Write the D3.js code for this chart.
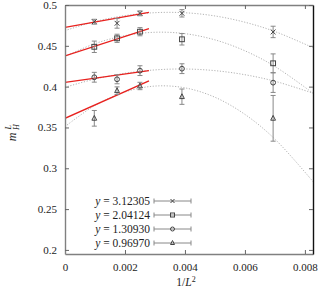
<!DOCTYPE html>
<html><head><meta charset="utf-8">
<script src="https://cdn.jsdelivr.net/npm/d3@7"></script>
<style>body{margin:0;background:#fff}svg{display:block}text{font-family:"Liberation Serif","Times New Roman",serif}</style>
</head><body><svg id="c" width="332" height="292"></svg>
<script>
// ---- data ----
const xs = [0.000977, 0.001736, 0.0025, 0.0039, 0.00694]; // 1/L^2 for L=32,24,20,16,12
const yLabels = ["3.12305", "2.04124", "1.30930", "0.96970"];
const markers = ["cross", "square", "circle", "triangle"];
const vals_31 = [0.4795, 0.4776, 0.4898, 0.4898, 0.4670];
const errs_31 = [0.003, 0.006, 0.003, 0.0045, 0.007];
const vals_20 = [0.4488, 0.4592, 0.4673, 0.4580, 0.4286];
const errs_20 = [0.007, 0.005, 0.005, 0.007, 0.0115];
const vals_13 = [0.4115, 0.4090, 0.4196, 0.4220, 0.4049];
const errs_13 = [0.006, 0.0055, 0.006, 0.006, 0.012];
const vals_09 = [0.3612, 0.3950, 0.4008, 0.3877, 0.3612];
const errs_09 = [0.0096, 0.0047, 0.0045, 0.0094, 0.028];
// red linear fits: value at x=0 and at x=fitEnd
const fitEnd = 0.0028;
const fitStart = [0.4727, 0.4376, 0.4053, 0.3612];
const fitStop = [0.4910, 0.4710, 0.4196, 0.4070];
// grey dotted curves
const curveX = [0, 0.001, 0.002, 0.003, 0.004, 0.005, 0.006, 0.007, 0.00827];
const curve_31 = [0.4686, 0.4797, 0.4870, 0.4906, 0.4905, 0.4866, 0.4789, 0.4675, 0.4477];
const curve_20 = [0.4370, 0.4527, 0.4625, 0.4666, 0.4649, 0.4573, 0.4439, 0.4247, 0.3920];
const curve_13 = [0.3992, 0.4093, 0.4164, 0.4205, 0.4216, 0.4196, 0.4146, 0.4066, 0.3920];
const curve_09 = [0.3510, 0.3770, 0.3935, 0.4007, 0.3985, 0.3870, 0.3660, 0.3357, 0.2837];
const xTicks = [0, 0.002, 0.004, 0.006, 0.008];
const xTickLabels = ["0", "0.002", "0.004", "0.006", "0.008"];
const yTicks = [0.2, 0.25, 0.3, 0.35, 0.4, 0.45, 0.5];
const yTickLabels = ["0.2", "0.25", "0.3", "0.35", "0.4", "0.45", "0.5"];

const vals = [vals_31, vals_20, vals_13, vals_09];
const errs = [errs_31, errs_20, errs_13, errs_09];
const curves = [curve_31, curve_20, curve_13, curve_09];

// ---- layout ----
const svg = d3.select("#c");
const L = 65, R = 313, T = 5, B = 254;
const x = d3.scaleLinear().domain([0, 0.00827]).range([L, R]);
const y = d3.scaleLinear().domain([0.195, 0.5]).range([B, T]);
const frameCol = "#808080";
const fs = 11;

svg.append("clipPath").attr("id", "clip").append("rect")
  .attr("x", L).attr("y", T).attr("width", R - L).attr("height", B - T);
const plot = svg.append("g").attr("clip-path", "url(#clip)");

// grey dotted curves
const line = d3.line().x(d => x(d[0])).y(d => y(d[1])).curve(d3.curveCatmullRom);
curves.forEach(c => {
  plot.append("path").datum(curveX.map((xv, i) => [xv, c[i]]))
    .attr("d", line).attr("fill", "none").attr("stroke", "#aaa")
    .attr("stroke-width", 0.9).attr("stroke-dasharray", "1.2,1.6");
});

// red fits
fitStart.forEach((s, i) => {
  plot.append("line").attr("x1", x(0)).attr("y1", y(s))
    .attr("x2", x(fitEnd)).attr("y2", y(fitStop[i]))
    .attr("stroke", "#e8211e").attr("stroke-width", 1.3);
});

const mkCol = "#444", ebCol = "#888";
function drawMarker(g, type, cx, cy, s) {
  if (type === "cross") {
    g.append("path").attr("d", `M${cx-s},${cy-s}L${cx+s},${cy+s}M${cx-s},${cy+s}L${cx+s},${cy-s}`)
      .attr("stroke", mkCol).attr("stroke-width", 1).attr("fill", "none");
  } else if (type === "square") {
    g.append("rect").attr("x", cx - s).attr("y", cy - s).attr("width", 2 * s).attr("height", 2 * s)
      .attr("stroke", mkCol).attr("stroke-width", 1).attr("fill", "none");
  } else if (type === "circle") {
    g.append("circle").attr("cx", cx).attr("cy", cy).attr("r", s)
      .attr("stroke", mkCol).attr("stroke-width", 1).attr("fill", "none");
  } else {
    g.append("path").attr("d", `M${cx},${cy-s-0.5}L${cx+s},${cy+s-0.5}L${cx-s},${cy+s-0.5}Z`)
      .attr("stroke", mkCol).attr("stroke-width", 1).attr("fill", "none");
  }
}

vals.forEach((vs, si) => {
  const g = plot.append("g");
  vs.forEach((v, i) => {
    const cx = x(xs[i]), e = errs[si][i];
    const y1 = y(v - e), y2 = y(v + e);
    g.append("path").attr("d", `M${cx},${y1}L${cx},${y2}M${cx-2.5},${y1}L${cx+2.5},${y1}M${cx-2.5},${y2}L${cx+2.5},${y2}`)
      .attr("stroke", ebCol).attr("stroke-width", 1).attr("fill", "none");
    drawMarker(g, markers[si], cx, y(v), 2.4);
  });
});

function styleAxis(g, col) {
  g.selectAll("path.domain").attr("stroke", col).attr("stroke-width", 1.4);
  g.selectAll(".tick line").attr("stroke", "#666");
  g.selectAll(".tick text").attr("font-size", fs).attr("fill", "#222")
    .attr("font-family", '"Liberation Serif", serif');
}
const ax = svg.append("g").attr("transform", `translate(0,${B})`)
  .call(d3.axisBottom(x).tickValues(xTicks).tickFormat((d, i) => xTickLabels[i])
    .tickSizeInner(-4).tickSizeOuter(0).tickPadding(9));
styleAxis(ax, frameCol);
const axT = svg.append("g").attr("transform", `translate(0,${T})`)
  .call(d3.axisTop(x).tickValues(xTicks).tickFormat("").tickSizeInner(-4).tickSizeOuter(0));
styleAxis(axT, frameCol);
const ay = svg.append("g").attr("transform", `translate(${L},0)`)
  .call(d3.axisLeft(y).tickValues(yTicks).tickFormat((d, i) => yTickLabels[i])
    .tickSizeInner(-4).tickSizeOuter(0).tickPadding(8));
styleAxis(ay, frameCol);
const ayR = svg.append("g").attr("transform", `translate(${R},0)`)
  .call(d3.axisRight(y).tickValues(yTicks).tickFormat("").tickSizeInner(-4).tickSizeOuter(0));
styleAxis(ayR, "#111");

const xl = svg.append("text").attr("x", 186).attr("y", 286).attr("text-anchor", "middle")
  .attr("font-size", fs + 0.5).attr("fill", "#222");
xl.append("tspan").text("1/");
xl.append("tspan").attr("font-style", "italic").text("L");
xl.append("tspan").attr("font-size", 8).attr("dy", -4).text("2");

const yl = svg.append("g").attr("transform", "translate(16,130) rotate(-90)");
yl.append("text").attr("x", -7).attr("y", 0).attr("text-anchor", "middle")
  .attr("font-size", fs + 1).attr("font-style", "italic").attr("fill", "#222").text("m");
yl.append("text").attr("x", 0).attr("y", 3).attr("font-size", 8)
  .attr("font-style", "italic").attr("fill", "#222").text("H");
yl.append("text").attr("x", 0.5).attr("y", -5).attr("font-size", 8)
  .attr("font-style", "italic").attr("fill", "#222").text("L");

const legY = [201, 215, 229, 243];
yLabels.forEach((lab, i) => {
  const ly = legY[i];
  const t = svg.append("text").attr("x", 150).attr("y", ly + 3.5).attr("text-anchor", "end")
    .attr("font-size", fs + 0.5).attr("fill", "#222");
  t.append("tspan").attr("font-style", "italic").text("y");
  t.append("tspan").text(" = " + lab);
  svg.append("path").attr("d", `M154,${ly}L191,${ly}M154,${ly-2.5}L154,${ly+2.5}M191,${ly-2.5}L191,${ly+2.5}`)
    .attr("stroke", ebCol).attr("stroke-width", 1).attr("fill", "none");
  drawMarker(svg.append("g"), markers[i], 172.5, ly, 2);
});
</script></body></html>
